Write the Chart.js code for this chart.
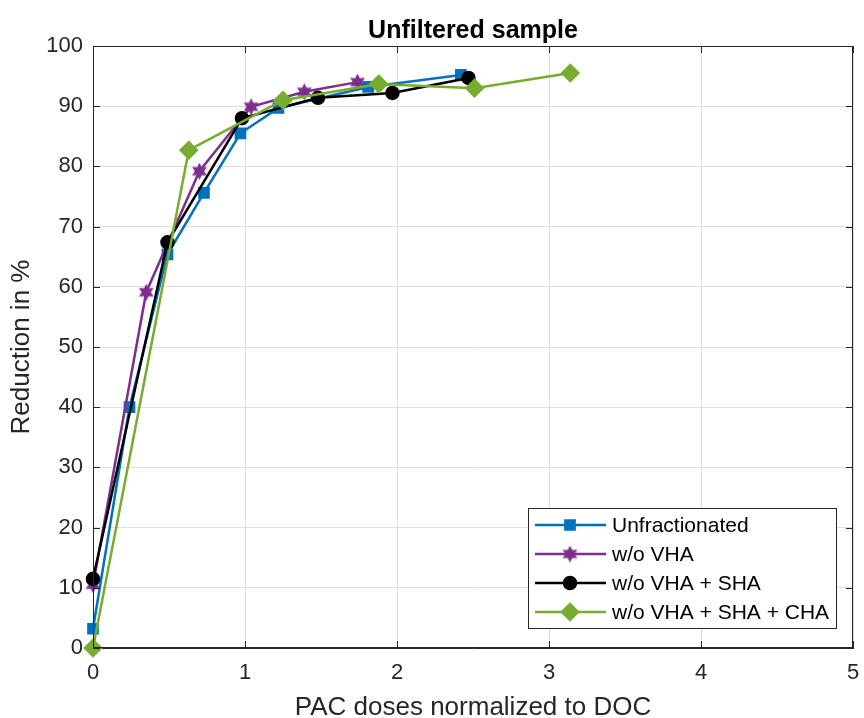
<!DOCTYPE html>
<html>
<head>
<meta charset="utf-8">
<script src="https://cdn.jsdelivr.net/npm/chart.js@4"></script>
<style>
  html, body { margin: 0; padding: 0; background: #fff; }
  #wrap { width: 864px; height: 718px; }
</style>
</head>
<body>
<div id="wrap"><canvas id="reductionChart" width="864" height="718"></canvas></div>
<script>
// dose / reduction values
const doseUnfrac = [0, 0.24, 0.49, 0.73, 0.97, 1.22, 1.81, 2.42];
const redUnfrac  = [3.2, 40, 65.4, 75.6, 85.5, 89.7, 93.2, 95.2];

const doseNoVHA = [0, 0.35, 0.70, 1.04, 1.39, 1.74];
const redNoVHA  = [10.5, 59.1, 79.2, 89.9, 92.4, 94.0];

const doseNoVHASHA = [0, 0.49, 0.98, 1.48, 1.97, 2.47];
const redNoVHASHA  = [11.5, 67.4, 88.0, 91.4, 92.2, 94.7];

const doseNoAll = [0, 0.63, 1.25, 1.88, 2.51, 3.14];
const redNoAll  = [0, 82.7, 91.0, 93.7, 93.0, 95.5];

const seriesNames = ['Unfractionated', 'w/o VHA', 'w/o VHA + SHA', 'w/o VHA + SHA + CHA'];
const xTicks = [0, 1, 2, 3, 4, 5];
const yTicks = [0, 10, 20, 30, 40, 50, 60, 70, 80, 90, 100];
const chartTitle = 'Unfiltered sample';

const FONT = "'Liberation Sans', Arial, Helvetica, sans-serif";
const AX = '#262626';

function pts(xs, ys) {
  return xs.map((x, i) => ({ x: x, y: ys[i] }));
}

// filled hexagram marker (MATLAB 'h')
function makeHexagram(color, size) {
  const c = document.createElement('canvas');
  c.width = size; c.height = size;
  const g = c.getContext('2d');
  const cx = size / 2, cy = size / 2, R = size / 2, r = R * 0.55;
  g.beginPath();
  for (let i = 0; i < 12; i++) {
    const a = -Math.PI / 2 + i * Math.PI / 6;
    const rr = i % 2 === 0 ? R : r;
    const px = cx + rr * Math.cos(a), py = cy + rr * Math.sin(a);
    if (i === 0) g.moveTo(px, py); else g.lineTo(px, py);
  }
  g.closePath();
  g.fillStyle = color;
  g.fill();
  return c;
}
const hexStar = makeHexagram('#7E2F8E', 17);

// title over the axes, box, inner ticks and in-plot legend, MATLAB style
const matlabAxes = {
  id: 'matlabAxes',
  afterDraw(chart) {
    const { ctx, chartArea: a, scales } = chart;
    ctx.save();

    ctx.fillStyle = '#000';
    ctx.font = 'bold 25px ' + FONT;
    ctx.textAlign = 'center';
    ctx.textBaseline = 'alphabetic';
    ctx.fillText(chartTitle, (a.left + a.right) / 2, 38);
    ctx.textAlign = 'left';

    ctx.strokeStyle = AX;
    ctx.lineWidth = 1;
    ctx.strokeRect(a.left + 0.5, a.top + 0.5, a.right - a.left - 1, a.bottom - a.top - 1);
    ctx.beginPath();
    xTicks.forEach(v => {
      const px = Math.round(scales.x.getPixelForValue(v)) + 0.5;
      ctx.moveTo(px, a.bottom); ctx.lineTo(px, a.bottom - 7);
      ctx.moveTo(px, a.top); ctx.lineTo(px, a.top + 7);
    });
    yTicks.forEach(v => {
      const py = Math.round(scales.y.getPixelForValue(v)) + 0.5;
      ctx.moveTo(a.left, py); ctx.lineTo(a.left + 7, py);
      ctx.moveTo(a.right, py); ctx.lineTo(a.right - 7, py);
    });
    ctx.stroke();

    // legend
    const bx = 528, by = 508, bw = 308, bh = 120;
    ctx.fillStyle = '#fff';
    ctx.fillRect(bx, by, bw, bh);
    ctx.strokeStyle = AX;
    ctx.strokeRect(bx + 0.5, by + 0.5, bw, bh);
    ctx.font = '21px ' + FONT;
    ctx.textBaseline = 'middle';
    chart.data.datasets.forEach((ds, i) => {
      const y = by + 17 + i * 29;
      ctx.strokeStyle = ds.borderColor;
      ctx.lineWidth = 2.5;
      ctx.beginPath();
      ctx.moveTo(bx + 7, y); ctx.lineTo(bx + 78, y);
      ctx.stroke();
      if (ds.pointStyle instanceof HTMLCanvasElement) {
        ctx.drawImage(ds.pointStyle, bx + 42 - ds.pointStyle.width / 2, y - ds.pointStyle.height / 2);
      } else {
        Chart.helpers.drawPoint(ctx, {
          pointStyle: ds.pointStyle, radius: ds.pointRadius, borderWidth: 1, rotation: 0
        }, bx + 42, y);
        ctx.fillStyle = ds.backgroundColor;
        ctx.fill();
      }
      ctx.fillStyle = '#000';
      ctx.fillText(ds.label, bx + 84, y + 1);
    });
    ctx.restore();
  }
};

function makeSet(label, data, color, style, radius, order) {
  return {
    label: label,
    data: data,
    order: order,
    clip: false,
    borderColor: color,
    backgroundColor: color,
    pointBackgroundColor: color,
    pointBorderColor: color,
    pointStyle: style,
    pointRadius: radius,
    pointHoverRadius: radius,
    borderWidth: 2.5,
    tension: 0,
    fill: false
  };
}

const ctx = document.getElementById('reductionChart');
new Chart(ctx, {
  type: 'line',
  data: {
    datasets: [
      makeSet(seriesNames[0], pts(doseUnfrac, redUnfrac), '#0072BD', 'rect', 6.5, 3),
      makeSet(seriesNames[1], pts(doseNoVHA, redNoVHA), '#7E2F8E', hexStar, 8, 2),
      makeSet(seriesNames[2], pts(doseNoVHASHA, redNoVHASHA), '#000000', 'circle', 6, 1),
      makeSet(seriesNames[3], pts(doseNoAll, redNoAll), '#77AC30', 'rectRot', 8, 0)
    ]
  },
  options: {
    responsive: false,
    animation: false,
    layout: { padding: { left: 0, right: 11, top: 46, bottom: 0 } },
    plugins: {
      legend: { display: false },
      tooltip: { enabled: false },
      title: { display: false }
    },
    scales: {
      x: {
        type: 'linear',
        min: 0, max: 5,
        afterFit: s => { s.height = 70; s.paddingLeft = 0; s.paddingRight = 0; },
        afterBuildTicks: s => { s.ticks = xTicks.map(v => ({ value: v })); },
        grid: { color: '#dfdfdf', drawTicks: false },
        border: { color: AX },
        ticks: { color: AX, padding: 12, font: { family: FONT, size: 22 } },
        title: {
          display: true, text: 'PAC doses normalized to DOC', color: AX,
          font: { family: FONT, size: 26, lineHeight: 1 }, padding: { top: 0, bottom: -3 }
        }
      },
      y: {
        min: 0, max: 100,
        afterFit: s => { s.width = 93; s.paddingTop = 0; s.paddingBottom = 0; },
        afterBuildTicks: s => { s.ticks = yTicks.map(v => ({ value: v })); },
        grid: { color: '#dfdfdf', drawTicks: false },
        border: { color: AX },
        ticks: { color: AX, padding: 10, font: { family: FONT, size: 22 } },
        title: {
          display: true, text: 'Reduction in %', color: AX,
          font: { family: FONT, size: 26, lineHeight: 1 }, padding: { top: 9, bottom: 0 }
        }
      }
    }
  },
  plugins: [matlabAxes]
});
</script>
</body>
</html>
